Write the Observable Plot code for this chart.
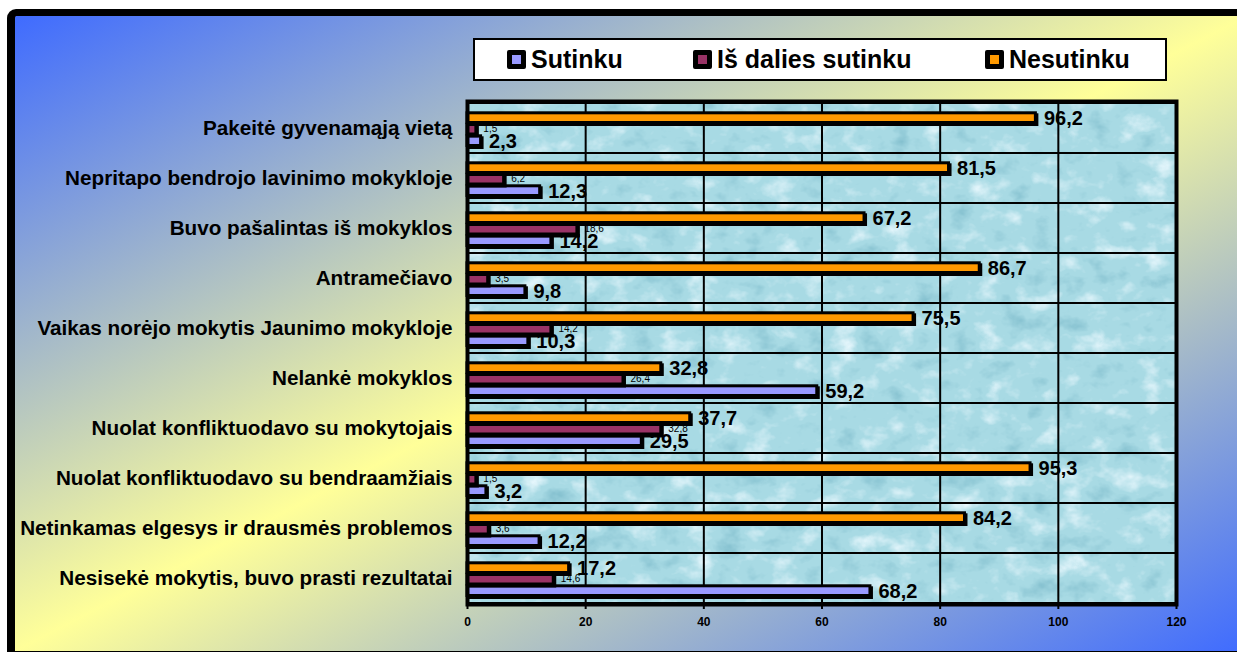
<!DOCTYPE html>
<html><head><meta charset="utf-8">
<script src="https://cdn.jsdelivr.net/npm/d3@7"></script>
<script src="https://cdn.jsdelivr.net/npm/@observablehq/plot@0.6"></script>
<style>
body{margin:0;background:#fff;}
#wrap{position:relative;width:1237px;height:653px;overflow:hidden;font-family:Arial,"Liberation Sans",sans-serif;}
#bg{position:absolute;left:7px;top:9px;width:1240px;height:643px;box-sizing:border-box;border-style:solid;border-color:#000;border-width:7px 0 1px 8px;border-top-left-radius:9px;background:linear-gradient(to bottom right,#3f6bff 0%,#ffff99 50%,#3f6bff 100%);}
#chart{position:absolute;left:0;top:0;}
#legend{position:absolute;left:473px;top:38px;width:690px;height:39px;border:2px solid #000;background:#fff;}
.item{position:absolute;top:0;height:39px;display:flex;align-items:center;font-weight:bold;font-size:25px;color:#000;white-space:nowrap;}
.sw{width:9px;height:9px;border:5px solid #000;margin-right:5px;border-radius:2px;}
</style>
</head><body>
<div id="wrap">
  <div id="bg"></div>
  <div id="chart"></div>
  <div id="legend"></div>
</div>
<script>
const categories = [
  "Pakeitė gyvenamąją vietą",
  "Nepritapo bendrojo lavinimo mokykloje",
  "Buvo pašalintas iš mokyklos",
  "Antramečiavo",
  "Vaikas norėjo mokytis Jaunimo mokykloje",
  "Nelankė mokyklos",
  "Nuolat konfliktuodavo su mokytojais",
  "Nuolat konfliktuodavo su bendraamžiais",
  "Netinkamas elgesys ir drausmės problemos",
  "Nesisekė mokytis, buvo prasti rezultatai"
];
const seriesNames = ["Sutinku", "Iš dalies sutinku", "Nesutinku"];
const sutinku   = [2.3, 12.3, 14.2, 9.8, 10.3, 59.2, 29.5, 3.2, 12.2, 68.2];
const isDalies  = [1.5, 6.2, 18.6, 3.5, 14.2, 26.4, 32.8, 1.5, 3.6, 14.6];
const nesutinku = [96.2, 81.5, 67.2, 86.7, 75.5, 32.8, 37.7, 95.3, 84.2, 17.2];
const xTicks = [0, 20, 40, 60, 80, 100, 120];
const colors = ["#9999ff", "#993366", "#ff9900"];

const seriesValues = [sutinku, isDalies, nesutinku];
const rows = categories.flatMap((c, i) => seriesNames.map((s, k) => ({cat: c, s, v: seriesValues[k][i]})));

// layout (styles) for the three bars inside each category band
const W = 1237, H = 653, mT = 101, mB = 49, mL = 467, mR = 61;
const band = (H - mT - mB) / categories.length;
const barH = 10;
const centerOff = {"Nesutinku": 14.8, "Iš dalies sutinku": 26.3, "Sutinku": 37.8};
const fmt = v => String(v).replace(".", ",");

const barMarks = seriesNames.flatMap((s, k) => {
  const data = rows.filter(d => d.s === s);
  const opt = {y: "cat", x: "v", insetTop: centerOff[s] - barH / 2, insetBottom: band - centerOff[s] - barH / 2};
  return [
    Plot.barX(data, {...opt, fill: "#000", stroke: "#000", strokeWidth: 3, dx: 1.5, dy: 2}),
    Plot.barX(data, {...opt, fill: colors[k], stroke: "#000", strokeWidth: 3})
  ];
});
const textMarks = seriesNames.map((s, k) => Plot.text(rows.filter(d => d.s === s), {
  y: "cat", x: "v", text: d => fmt(d.v), textAnchor: "start",
  dx: k === 1 ? 7 : 8, dy: centerOff[s] - band / 2 + (k === 1 ? -1 : 0),
  fontSize: k === 1 ? 10 : 20, fontWeight: k === 1 ? "normal" : "bold", fill: "#000"
}));

const plot = Plot.plot({
  width: W, height: H, marginTop: mT, marginBottom: mB, marginLeft: mL, marginRight: mR,
  style: {background: "transparent", fontFamily: "Arial, 'Liberation Sans', sans-serif", color: "#000", overflow: "visible"},
  x: {domain: [xTicks[0], xTicks[xTicks.length - 1]]},
  y: {domain: categories, padding: 0},
  marks: [
    Plot.frame({fill: "#a8dae4"}),
    Plot.gridX(xTicks.slice(1, -1), {stroke: "#000", strokeOpacity: 1, strokeWidth: 2}),
    Plot.barX(categories, {y: d => d, x1: xTicks[0], x2: xTicks[xTicks.length - 1], fill: "none", stroke: "#000", strokeWidth: 2}),
    ...barMarks,
    ...textMarks,
    Plot.frame({stroke: "#000", strokeWidth: 4}),
    Plot.axisX({ticks: xTicks, tickSize: 5, tickPadding: 8, fontSize: 12, fontWeight: "bold", strokeWidth: 2, label: null, tickFormat: d => String(d)}),
    Plot.axisY({tickSize: 0, tickPadding: 15, fontSize: 20.7, fontWeight: "bold", label: null})
  ]
});

// water-drop like texture for the plotting area
const ns = "http://www.w3.org/2000/svg";
const defs = document.createElementNS(ns, "defs");
defs.innerHTML = `
<filter id="water" x="0" y="0" width="1" height="1" color-interpolation-filters="sRGB">
  <feTurbulence type="fractalNoise" baseFrequency="0.035 0.045" numOctaves="4" seed="11" result="n"/>
  <feColorMatrix in="n" type="matrix" values="0 0 0 0 0.93  0 0 0 0 0.98  0 0 0 0 1  2.4 0 0 0 -1.3" result="hi"/>
  <feColorMatrix in="n" type="matrix" values="0 0 0 0 0.5  0 0 0 0 0.74  0 0 0 0 0.8  -2.4 0 0 0 1.0" result="lo"/>
  <feMerge result="m"><feMergeNode in="SourceGraphic"/><feMergeNode in="lo"/><feMergeNode in="hi"/></feMerge>
  <feComposite in="m" in2="SourceGraphic" operator="in"/>
</filter>`;
plot.prepend(defs);
const fr = plot.querySelector('[aria-label="frame"]');
if (fr) fr.setAttribute("filter", "url(#water)");
document.getElementById("chart").appendChild(plot);

// legend
const legend = document.getElementById("legend");
const legendLeft = [32, 218, 510];
seriesNames.forEach((s, k) => {
  const it = document.createElement("div");
  it.className = "item";
  it.style.left = legendLeft[k] + "px";
  const sw = document.createElement("span");
  sw.className = "sw";
  sw.style.background = colors[k];
  it.appendChild(sw);
  it.appendChild(document.createTextNode(s));
  legend.appendChild(it);
});
</script>
</body></html>
